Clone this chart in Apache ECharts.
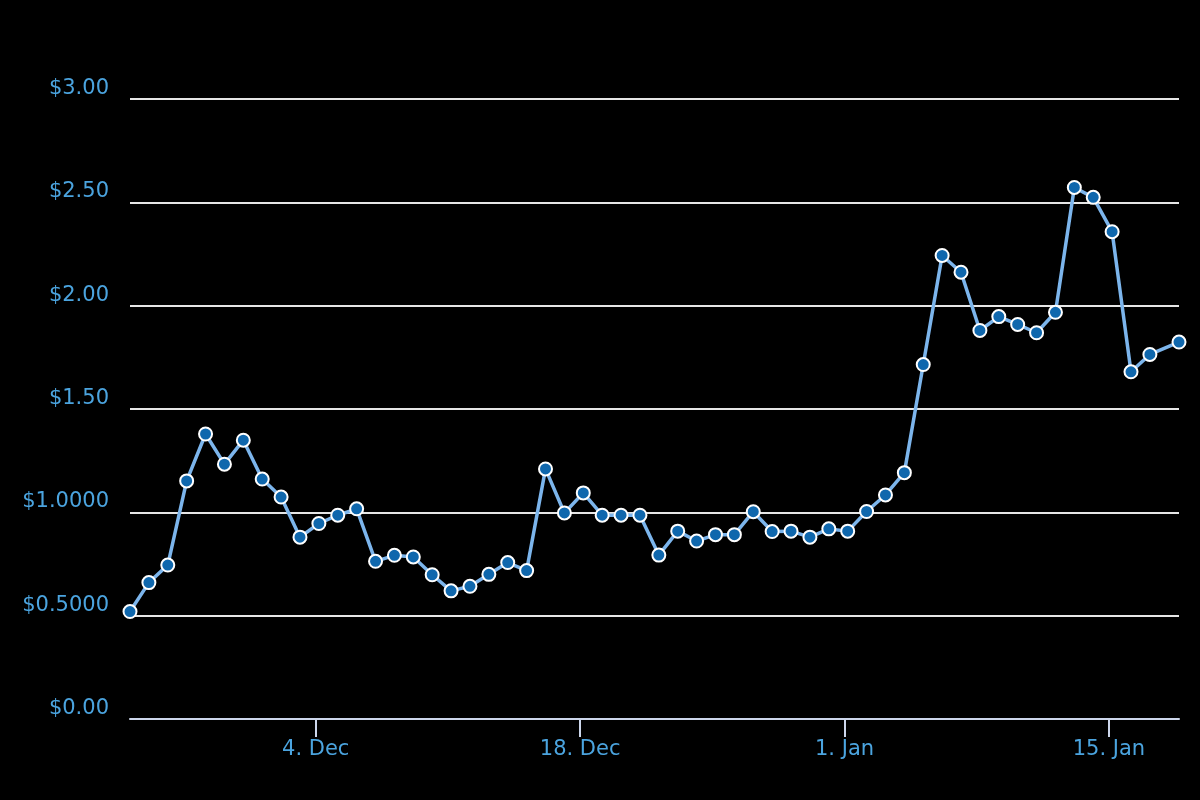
<!DOCTYPE html>
<html>
<head>
<meta charset="utf-8">
<title>Price</title>
<script src="https://cdn.jsdelivr.net/npm/echarts@6/dist/echarts.min.js"></script>
<style>
  html, body { margin: 0; padding: 0; background: #000; }
  #chart { width: 1200px; height: 800px; }
</style>
</head>
<body>
<div id="chart"></div>
<script>
  // one price reading per day, last one taken later on 18 Jan
  var dates = [
    "2017-11-24T04:00Z", "2017-11-25T04:00Z", "2017-11-26T04:00Z", "2017-11-27T04:00Z",
    "2017-11-28T04:00Z", "2017-11-29T04:00Z", "2017-11-30T04:00Z", "2017-12-01T04:00Z",
    "2017-12-02T04:00Z", "2017-12-03T04:00Z", "2017-12-04T04:00Z", "2017-12-05T04:00Z",
    "2017-12-06T04:00Z", "2017-12-07T04:00Z", "2017-12-08T04:00Z", "2017-12-09T04:00Z",
    "2017-12-10T04:00Z", "2017-12-11T04:00Z", "2017-12-12T04:00Z", "2017-12-13T04:00Z",
    "2017-12-14T04:00Z", "2017-12-15T04:00Z", "2017-12-16T04:00Z", "2017-12-17T04:00Z",
    "2017-12-18T04:00Z", "2017-12-19T04:00Z", "2017-12-20T04:00Z", "2017-12-21T04:00Z",
    "2017-12-22T04:00Z", "2017-12-23T04:00Z", "2017-12-24T04:00Z", "2017-12-25T04:00Z",
    "2017-12-26T04:00Z", "2017-12-27T04:00Z", "2017-12-28T04:00Z", "2017-12-29T04:00Z",
    "2017-12-30T04:00Z", "2017-12-31T04:00Z", "2018-01-01T04:00Z", "2018-01-02T04:00Z",
    "2018-01-03T04:00Z", "2018-01-04T04:00Z", "2018-01-05T04:00Z", "2018-01-06T04:00Z",
    "2018-01-07T04:00Z", "2018-01-08T04:00Z", "2018-01-09T04:00Z", "2018-01-10T04:00Z",
    "2018-01-11T04:00Z", "2018-01-12T04:00Z", "2018-01-13T04:00Z", "2018-01-14T04:00Z",
    "2018-01-15T04:00Z", "2018-01-16T04:00Z", "2018-01-17T04:00Z", "2018-01-18T17:00Z"
  ];

  var prices = [
    0.52, 0.66, 0.745, 1.152, 1.379, 1.233, 1.349, 1.161, 1.074, 0.88,
    0.946, 0.986, 1.017, 0.763, 0.792, 0.784, 0.698, 0.62, 0.642, 0.70,
    0.757, 0.718, 1.21, 0.997, 1.094, 0.986, 0.986, 0.986, 0.793, 0.909,
    0.861, 0.892, 0.892, 1.003, 0.907, 0.909, 0.880, 0.92, 0.909, 1.004,
    1.084, 1.192, 1.715, 2.243, 2.162, 1.88, 1.947, 1.909, 1.869, 1.968,
    2.572, 2.524, 2.358, 1.68, 1.764, 1.824
  ];

  var xTickDates = ["2017-12-04T00:00Z", "2017-12-18T00:00Z", "2018-01-01T00:00Z", "2018-01-15T00:00Z"];
  var yTickLabels = ["$0.00", "$0.5000", "$1.0000", "$1.50", "$2.00", "$2.50", "$3.00"];
  var monthNames = ["Jan", "Feb", "Mar", "Apr", "May", "Jun", "Jul", "Aug", "Sep", "Oct", "Nov", "Dec"];

  var labelColor = "#4ba4df";
  var fontFamily = "DejaVu Sans";

  var times = dates.map(function(d) { return Date.parse(d); });
  var tickTimes = xTickDates.map(function(d) { return Date.parse(d); });

  var seriesData = times.map(function(t, i) {
    return [t, prices[i]];
  });

  var chart = echarts.init(document.getElementById("chart"));

  chart.setOption({
    backgroundColor: "#000000",
    animation: false,
    grid: {
      left: 130,
      right: 21,
      top: 99,
      bottom: 81
    },
    xAxis: {
      // plain numeric axis holding timestamps, ticks placed on the dates we want
      type: "value",
      min: times[0],
      max: times[times.length - 1],
      axisLine: {
        show: true,
        onZero: false,
        lineStyle: { color: "#ccd6eb", width: 2 }
      },
      axisTick: {
        show: true,
        length: 18,
        customValues: tickTimes,
        lineStyle: { color: "#ccd6eb", width: 2 }
      },
      axisLabel: {
        customValues: tickTimes,
        color: labelColor,
        fontFamily: fontFamily,
        fontSize: 21,
        margin: 20,
        formatter: function(value) {
          var d = new Date(value);
          return d.getUTCDate() + ". " + monthNames[d.getUTCMonth()];
        }
      },
      splitLine: { show: false }
    },
    yAxis: {
      type: "value",
      min: 0,
      max: 3,
      interval: 0.5,
      axisLine: { show: false },
      axisTick: { show: false },
      axisLabel: {
        color: labelColor,
        fontFamily: fontFamily,
        fontSize: 21,
        margin: 21,
        verticalAlign: "bottom",
        formatter: function(value) {
          return yTickLabels[Math.round(value / 0.5)];
        }
      },
      splitLine: {
        show: true,
        lineStyle: { color: "#e6e6e6", width: 2 }
      }
    },
    series: [{
      type: "line",
      data: seriesData,
      symbol: "circle",
      symbolSize: 13,
      showAllSymbol: true,
      lineStyle: { color: "#7cb5ec", width: 3.5 },
      itemStyle: {
        color: "#0f67ad",
        borderColor: "#ffffff",
        borderWidth: 2
      },
      z: 3
    }]
  });
</script>
</body>
</html>
